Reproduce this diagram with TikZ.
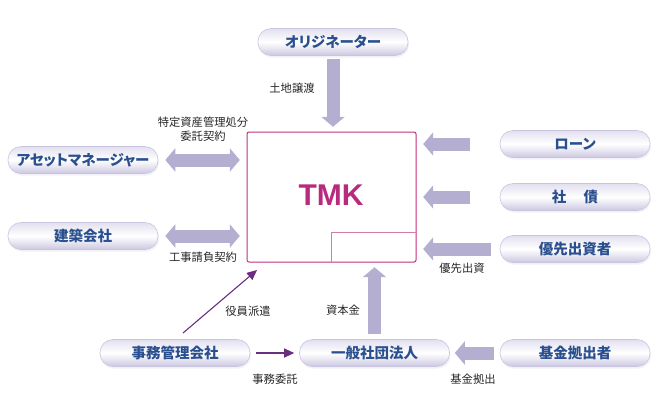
\documentclass[tikz,border=0pt]{standalone}
\usepackage{fontspec}
\setmainfont{Noto Sans CJK JP}
\newfontfamily\jpbox[RawFeature=+palt]{Noto Sans CJK JP}
\newfontfamily\latfont{Liberation Sans}
\usetikzlibrary{arrows.meta,shadows}
\definecolor{pillblue}{HTML}{2A4F8F}
\definecolor{pilledge}{HTML}{C9C5DF}
\definecolor{pilltop}{HTML}{E2E0EF}
\definecolor{pillbot}{HTML}{CBC8E1}
\definecolor{fatarrow}{HTML}{B4AFD0}
\definecolor{thinarrow}{HTML}{6A2D80}
\definecolor{tmkcol}{HTML}{B82A7C}
\definecolor{tmkedge}{HTML}{C0307E}
\definecolor{inneredge}{HTML}{D47AAE}
\tikzset{
  pill/.style={draw=pilledge, line width=0.6pt, rounded corners=13pt,
    minimum width=150pt, minimum height=27pt, inner sep=0pt,
    top color=pilltop, bottom color=pillbot, middle color=white,
    drop shadow={shadow xshift=1pt, shadow yshift=-2pt, opacity=0.25, fill=pillbot},
    font=\jpbox\fontsize{14.5pt}{16pt}\selectfont\bfseries, text=pillblue},
  lbl/.style={font=\fontsize{11.3pt}{14pt}\selectfont, text=black!85, inner sep=0pt, align=center},
  fat/.style={draw=fatarrow, line width=13pt, -{Triangle[width=23pt,length=10pt]}},
  fatboth/.style={draw=fatarrow, line width=13pt, {Triangle[width=23pt,length=10pt]}-{Triangle[width=23pt,length=10pt]}},
  thin/.style={draw=thinarrow, line width=1.1pt, -{Triangle[width=9pt,length=10pt]}}
}
\begin{document}
\begin{tikzpicture}[x=1pt,y=-1pt]
\useasboundingbox (0,0) rectangle (660,408);
% TMK box
\draw[tmkedge, line width=1pt, rounded corners=2pt] (247,132) rectangle (416,262);
\node[inner sep=0pt, minimum width=169pt, minimum height=130pt] (tmk) at (331.5,197) {};
\draw[inneredge, line width=0.7pt] (331,262) -- (331,232) -- (416,232);
\node[font=\latfont\fontsize{30pt}{32pt}\selectfont\bfseries, text=tmkcol] (tmklbl) at (331,195) {TMK};
% pills
\node[pill] (orig) at (333,42) {オリジネーター};
\node[pill] (am) at (83,160) {アセットマネージャー};
\node[pill] (kc) at (83,236) {建築会社};
\node[pill] (loan) at (575,144) {ローン};
\node[pill] (bond) at (575,197) {社\hspace{1.2em}債};
\node[pill] (pref) at (575,249) {優先出資者};
\node[pill] (jimu) at (175,353) {事務管理会社};
\node[pill] (ippan) at (374.5,353) {一般社団法人};
\node[pill] (kikin) at (575,353) {基金拠出者};
% fat arrows
\draw[fat, shorten <=3pt, shorten >=5pt] (orig.south) -- (orig.south |- tmk.north);
\draw[fatboth, shorten <=7pt, shorten >=7pt] (am.east) -- (am.east -| tmk.west);
\draw[fatboth, shorten <=7pt, shorten >=7pt] (kc.east) -- (kc.east -| tmk.west);
\draw[fat, shorten <=30pt, shorten >=7pt] (loan.west) -- (loan.west -| tmk.east);
\draw[fat, shorten <=30pt, shorten >=7pt] (bond.west) -- (bond.west -| tmk.east);
\draw[fat, shorten <=9pt, shorten >=7pt] (pref.west) -- (pref.west -| tmk.east);
\draw[fat, shorten <=5pt, shorten >=5pt] (ippan.north) -- (ippan.north |- tmk.south);
\draw[fat, shorten <=6pt, shorten >=5pt] (kikin.west) -- (ippan.east);
% thin arrows
\draw[thin, shorten <=6pt, shorten >=5pt] (jimu.east) -- (ippan.west);
\coordinate (dstart) at (183,333);
\coordinate (dend) at (257,270);
\draw[thin] (dstart) -- (dend);
% labels
\node[lbl] (l1) at (292,88) {土地譲渡};
\node[lbl] (l2) at (203,129) {特定資産管理処分\\委託契約};
\node[lbl] (l3) at (203,257) {工事請負契約};
\node[lbl] (l4) at (462,268) {優先出資};
\node[lbl] (l5) at (248,311) {役員派遣};
\node[lbl] (l6) at (343,310) {資本金};
\node[lbl] (l7) at (275,379) {事務委託};
\node[lbl] (l8) at (473,379) {基金拠出};
\end{tikzpicture}
\end{document}
